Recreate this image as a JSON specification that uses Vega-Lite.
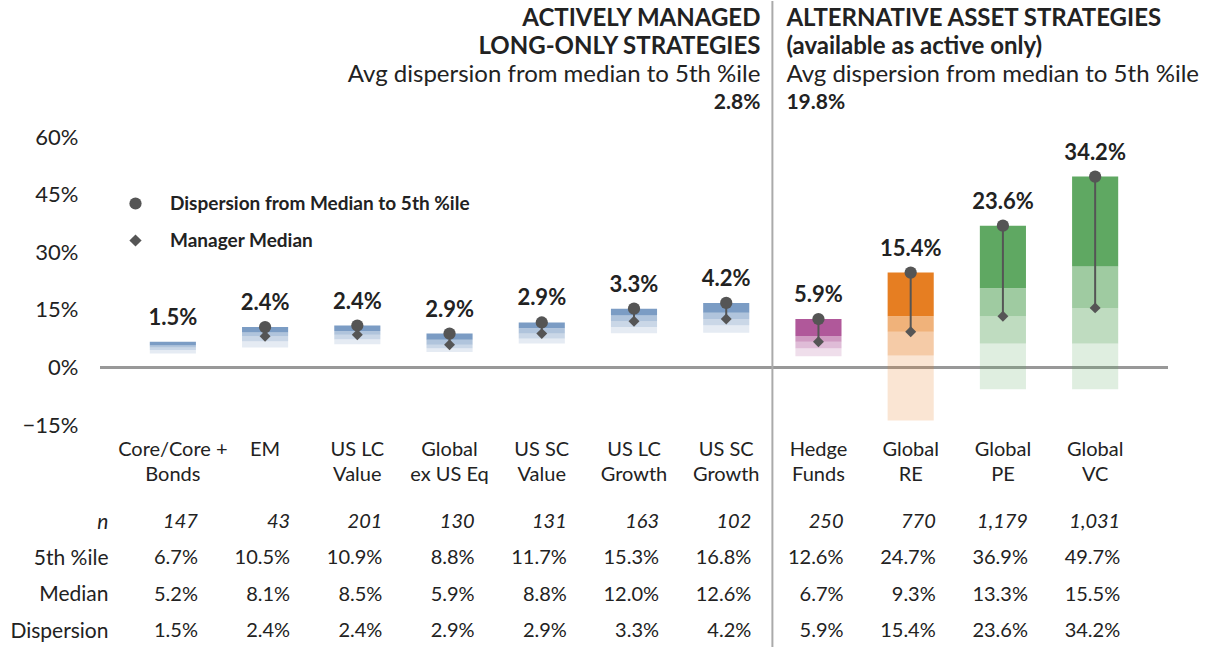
{
  "$schema": "https://vega.github.io/schema/vega-lite/v6.json",
  "padding": {"left": 9, "top": 0, "right": 0, "bottom": 0},
  "bounds": "flush",
  "spacing": 0,
  "config": {"view": {"stroke": null}, "font": "Lato", "text": {"color": "#222"}},
  "datasets": {
    "strategies": [
      {"cat": "Core/Core +|Bonds", "family": "Long-only", "p5": 0.067, "p25": 0.057, "med": 0.052, "p75": 0.045, "p95": 0.036, "n": 147, "disp": 0.015},
      {"cat": "EM", "family": "Long-only", "p5": 0.105, "p25": 0.091, "med": 0.081, "p75": 0.068, "p95": 0.052, "n": 43, "disp": 0.024},
      {"cat": "US LC|Value", "family": "Long-only", "p5": 0.109, "p25": 0.095, "med": 0.085, "p75": 0.073, "p95": 0.06, "n": 201, "disp": 0.024},
      {"cat": "Global|ex US Eq", "family": "Long-only", "p5": 0.088, "p25": 0.072, "med": 0.059, "p75": 0.05, "p95": 0.04, "n": 130, "disp": 0.029},
      {"cat": "US SC|Value", "family": "Long-only", "p5": 0.117, "p25": 0.102, "med": 0.088, "p75": 0.075, "p95": 0.062, "n": 131, "disp": 0.029},
      {"cat": "US LC|Growth", "family": "Long-only", "p5": 0.153, "p25": 0.135, "med": 0.12, "p75": 0.105, "p95": 0.089, "n": 163, "disp": 0.033},
      {"cat": "US SC|Growth", "family": "Long-only", "p5": 0.168, "p25": 0.142, "med": 0.126, "p75": 0.11, "p95": 0.09, "n": 102, "disp": 0.042},
      {"cat": "Hedge|Funds", "family": "Hedge Funds", "p5": 0.126, "p25": 0.082, "med": 0.067, "p75": 0.05, "p95": 0.029, "n": 250, "disp": 0.059},
      {"cat": "Global|RE", "family": "Real Estate", "p5": 0.247, "p25": 0.133, "med": 0.093, "p75": 0.031, "p95": -0.138, "n": 770, "disp": 0.154},
      {"cat": "Global|PE", "family": "Private", "p5": 0.369, "p25": 0.206, "med": 0.133, "p75": 0.062, "p95": -0.057, "n": 1179, "disp": 0.236},
      {"cat": "Global|VC", "family": "Private", "p5": 0.497, "p25": 0.263, "med": 0.155, "p75": 0.062, "p95": -0.057, "n": 1031, "disp": 0.342}
    ],
    "divider": [{"cat": "Hedge|Funds"}],
    "header": [
      {"side": "left", "kind": "title", "row": "a", "text": "ACTIVELY MANAGED"},
      {"side": "left", "kind": "title", "row": "b", "text": "LONG-ONLY STRATEGIES"},
      {"side": "left", "kind": "sub", "row": "c", "text": "Avg dispersion from median to 5th %ile"},
      {"side": "left", "kind": "value", "row": "d", "text": "2.8%"},
      {"side": "right", "kind": "title", "row": "a", "text": "ALTERNATIVE ASSET STRATEGIES"},
      {"side": "right", "kind": "title", "row": "b", "text": "(available as active only)"},
      {"side": "right", "kind": "sub", "row": "c", "text": "Avg dispersion from median to 5th %ile"},
      {"side": "right", "kind": "value", "row": "d", "text": "19.8%"}
    ]
  },
  "vconcat": [
    {
      "width": 1068,
      "height": 136,
      "data": {"name": "header"},
      "encoding": {
        "x": {"datum": "Hedge|Funds", "type": "nominal", "bandPosition": 0, "axis": null,
          "scale": {"domain": ["Core/Core +|Bonds", "EM", "US LC|Value", "Global|ex US Eq", "US SC|Value", "US LC|Growth", "US SC|Growth", "Hedge|Funds", "Global|RE", "Global|PE", "Global|VC"], "paddingInner": 0.5, "paddingOuter": 0.54}},
        "y": {"field": "row", "type": "ordinal", "axis": null,
          "scale": {"type": "point", "domain": ["a", "b", "c", "d"], "range": [18, 102], "padding": 0}},
        "text": {"field": "text"}
      },
      "layer": [
        {"data": {"name": "divider"},
         "mark": {"type": "rule", "color": "#aaaaaa", "strokeWidth": 2, "xOffset": -23},
         "encoding": {"x": {"field": "cat", "type": "nominal", "bandPosition": 0}, "y": null, "text": null}},
        {"transform": [{"filter": "datum.side == 'left' && datum.kind == 'title'"}],
         "mark": {"type": "text", "align": "right", "baseline": "middle", "dx": -35, "font": "Liberation Sans Narrow, Lato", "fontSize": 24, "fontWeight": "bold"}},
        {"transform": [{"filter": "datum.side == 'right' && datum.kind == 'title'"}],
         "mark": {"type": "text", "align": "left", "baseline": "middle", "dx": -9, "font": "Liberation Sans Narrow, Lato", "fontSize": 24, "fontWeight": "bold"}},
        {"transform": [{"filter": "datum.side == 'left' && datum.kind == 'sub'"}],
         "mark": {"type": "text", "align": "right", "baseline": "middle", "dx": -35, "font": "Liberation Sans Narrow, Lato", "fontSize": 24}},
        {"transform": [{"filter": "datum.side == 'right' && datum.kind == 'sub'"}],
         "mark": {"type": "text", "align": "left", "baseline": "middle", "dx": -9, "font": "Liberation Sans Narrow, Lato", "fontSize": 24}},
        {"transform": [{"filter": "datum.side == 'left' && datum.kind == 'value'"}],
         "mark": {"type": "text", "align": "right", "baseline": "middle", "dx": -35, "font": "Liberation Sans Narrow, Lato", "fontSize": 21, "fontWeight": "bold"}},
        {"transform": [{"filter": "datum.side == 'right' && datum.kind == 'value'"}],
         "mark": {"type": "text", "align": "left", "baseline": "middle", "dx": -9, "font": "Liberation Sans Narrow, Lato", "fontSize": 21, "fontWeight": "bold"}}
      ]
    },
    {
      "width": 1068,
      "height": 288,
      "data": {"name": "strategies"},
      "encoding": {
        "x": {"field": "cat", "type": "nominal", "title": null,
          "scale": {"domain": ["Core/Core +|Bonds", "EM", "US LC|Value", "Global|ex US Eq", "US SC|Value", "US LC|Growth", "US SC|Growth", "Hedge|Funds", "Global|RE", "Global|PE", "Global|VC"], "paddingInner": 0.5, "paddingOuter": 0.54},
          "axis": {"domain": false, "ticks": false, "grid": false, "labelAngle": 0, "labelPadding": 14, "labelFontSize": 20, "labelColor": "#222", "labelExpr": "split(datum.value, '|')", "labelLineHeight": 25, "labelBaseline": "top", "labelOverlap": false, "labelLimit": 0}}
      },
      "layer": [
        {"mark": {"type": "rule", "color": "#999999", "strokeWidth": 2.5},
         "encoding": {"y": {"datum": 0, "type": "quantitative",
           "scale": {"domain": [-0.15, 0.6], "nice": false, "zero": false},
           "axis": {"title": null, "values": [-0.15, 0, 0.15, 0.3, 0.45, 0.6], "format": ".0%", "domain": false, "ticks": false, "labelPadding": 22, "labelFontSize": 22, "labelColor": "#222", "gridColor": "#d0d0d0", "gridWidth": 1.5}},
           "x": null}},
        {"mark": {"type": "bar", "opacity": 1},
         "encoding": {"y": {"field": "p5", "type": "quantitative"}, "y2": {"field": "p25"},
           "color": {"field": "family", "type": "nominal", "legend": null,
             "scale": {"domain": ["Long-only", "Hedge Funds", "Real Estate", "Private"], "range": ["#7b9cc4", "#b0589a", "#e67e22", "#5fa862"]}}}},
        {"mark": {"type": "bar", "opacity": 0.6},
         "encoding": {"y": {"field": "p25", "type": "quantitative"}, "y2": {"field": "med"}, "color": {"field": "family", "type": "nominal"}}},
        {"mark": {"type": "bar", "opacity": 0.4},
         "encoding": {"y": {"field": "med", "type": "quantitative"}, "y2": {"field": "p75"}, "color": {"field": "family", "type": "nominal"}}},
        {"mark": {"type": "bar", "opacity": 0.2},
         "encoding": {"y": {"field": "p75", "type": "quantitative"}, "y2": {"field": "p95"}, "color": {"field": "family", "type": "nominal"}}},
        {"transform": [{"filter": "datum.cat != 'Core/Core +|Bonds'"}],
         "mark": {"type": "rule", "color": "#555555", "strokeWidth": 2},
         "encoding": {"y": {"field": "p5", "type": "quantitative"}, "y2": {"field": "med"}}},
        {"transform": [{"filter": "datum.cat != 'Core/Core +|Bonds'"}],
         "mark": {"type": "point", "filled": true, "color": "#555555", "size": 150, "opacity": 1},
         "encoding": {"y": {"field": "p5", "type": "quantitative"},
           "shape": {"datum": "Dispersion from Median to 5th %ile", "type": "nominal",
             "scale": {"domain": ["Dispersion from Median to 5th %ile", "Manager Median"], "range": ["circle", "diamond"]},
             "legend": {"orient": "none", "legendX": 26, "legendY": 193, "title": null, "padding": 0, "labelFont": "Lato", "labelFontSize": 19, "labelFontWeight": "bold", "labelColor": "#222", "labelLimit": 600, "symbolFillColor": "#555555", "symbolStrokeColor": "#555555", "symbolSize": 150, "rowPadding": 17, "labelOffset": 25}}}},
        {"transform": [{"filter": "datum.cat != 'Core/Core +|Bonds'"}],
         "mark": {"type": "point", "filled": true, "color": "#555555", "size": 120, "opacity": 1},
         "encoding": {"y": {"field": "med", "type": "quantitative"},
           "shape": {"datum": "Manager Median", "type": "nominal"}}},
        {"mark": {"type": "text", "baseline": "bottom", "dy": -12, "fontSize": 22, "fontWeight": "bold", "color": "#222"},
         "encoding": {"y": {"field": "p5", "type": "quantitative"}, "text": {"field": "disp", "type": "quantitative", "format": ".1%"}}},
        {"data": {"name": "divider"},
         "mark": {"type": "rule", "color": "#aaaaaa", "strokeWidth": 2, "xOffset": -23},
         "encoding": {"x": {"field": "cat", "type": "nominal", "bandPosition": 0}}}
      ]
    },
    {
      "width": 1068,
      "height": 223,
      "data": {"name": "strategies"},
      "encoding": {
        "x": {"field": "cat", "type": "nominal", "bandPosition": 1, "axis": null,
          "scale": {"domain": ["Core/Core +|Bonds", "EM", "US LC|Value", "Global|ex US Eq", "US SC|Value", "US LC|Growth", "US SC|Growth", "Hedge|Funds", "Global|RE", "Global|PE", "Global|VC"], "paddingInner": 0.5, "paddingOuter": 0.54}}
      },
      "layer": [
        {"mark": {"type": "text", "align": "right", "baseline": "middle", "dx": 2, "fontSize": 20, "fontStyle": "italic", "color": "#222"},
         "encoding": {
           "y": {"datum": "n", "type": "nominal",
             "scale": {"type": "point", "domain": ["n", "5th %ile", "Median", "Dispersion"], "range": [97, 206], "padding": 0},
             "axis": {"title": null, "domain": false, "ticks": false, "labelPadding": 0, "offset": -8, "labelFontSize": 21, "labelColor": "#222",
               "labelFontStyle": {"condition": {"test": "datum.value == 'n'", "value": "italic"}, "value": "normal"}}},
           "text": {"field": "n", "type": "quantitative", "format": ","}}},
        {"mark": {"type": "text", "align": "right", "baseline": "middle", "dx": 2, "fontSize": 20, "color": "#222"},
         "encoding": {"y": {"datum": "5th %ile", "type": "nominal"}, "text": {"field": "p5", "type": "quantitative", "format": ".1%"}}},
        {"mark": {"type": "text", "align": "right", "baseline": "middle", "dx": 2, "fontSize": 20, "color": "#222"},
         "encoding": {"y": {"datum": "Median", "type": "nominal"}, "text": {"field": "med", "type": "quantitative", "format": ".1%"}}},
        {"mark": {"type": "text", "align": "right", "baseline": "middle", "dx": 2, "fontSize": 20, "color": "#222"},
         "encoding": {"y": {"datum": "Dispersion", "type": "nominal"}, "text": {"field": "disp", "type": "quantitative", "format": ".1%"}}},
        {"data": {"name": "divider"},
         "mark": {"type": "rule", "color": "#aaaaaa", "strokeWidth": 2, "xOffset": -23},
         "encoding": {"x": {"field": "cat", "type": "nominal", "bandPosition": 0}}}
      ]
    }
  ]
}
